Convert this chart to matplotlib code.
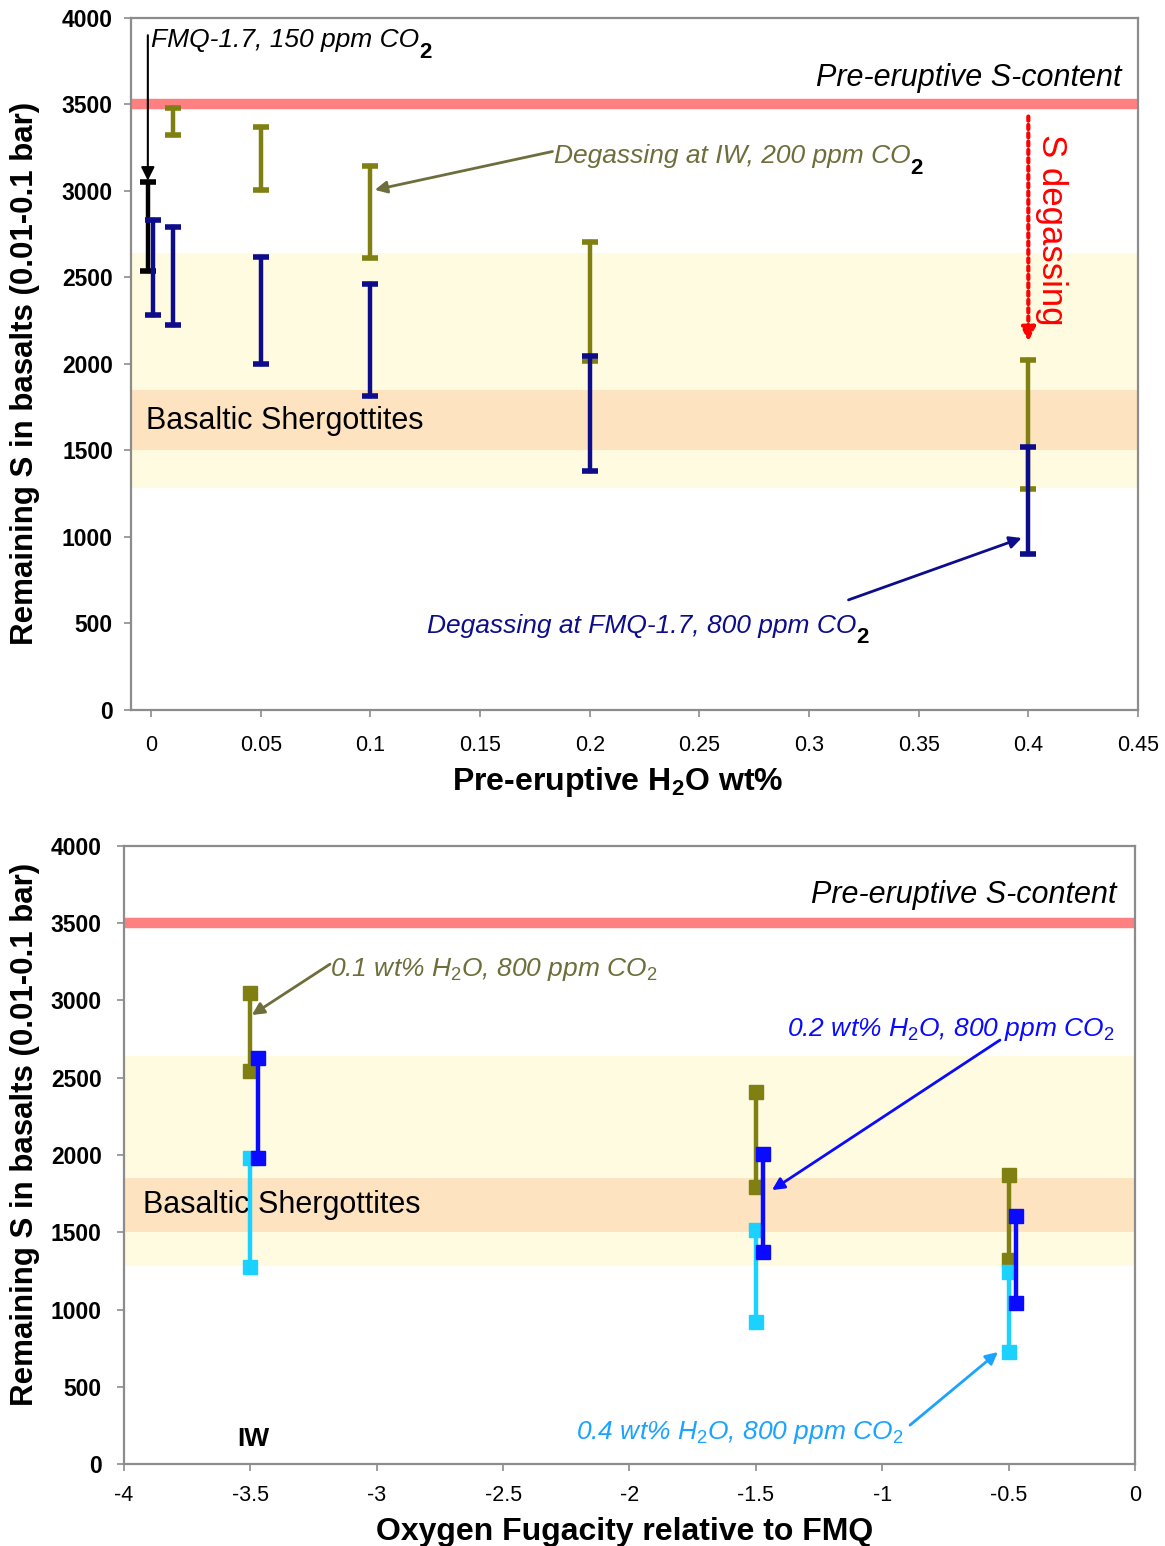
import numpy as np
import matplotlib
matplotlib.use("Agg")
import matplotlib.pyplot as plt

plt.rcParams['font.family'] = ['Liberation Sans', 'DejaVu Sans']
plt.rcParams['mathtext.fontset'] = 'custom'
plt.rcParams['mathtext.rm'] = 'Liberation Sans'
plt.rcParams['mathtext.it'] = 'Liberation Sans:italic'
plt.rcParams['mathtext.bf'] = 'Liberation Sans:bold'

# ---- top panel: S remaining vs pre-eruptive H2O ----
black_x = [-0.0015]
black_hi = [3050]
black_lo = [2540]

iw_x = [0.01, 0.05, 0.1, 0.2, 0.4]
iw_hi = [3480, 3370, 3145, 2705, 2020]
iw_lo = [3325, 3005, 2615, 2015, 1275]

fmq_x = [0.001, 0.01, 0.05, 0.1, 0.2, 0.4]
fmq_hi = [2830, 2790, 2620, 2460, 2045, 1520]
fmq_lo = [2280, 2225, 2000, 1815, 1380, 900]

top_xticks = [0, 0.05, 0.1, 0.15, 0.2, 0.25, 0.3, 0.35, 0.4, 0.45]
top_xlabels = ["0", "0.05", "0.1", "0.15", "0.2", "0.25", "0.3", "0.35", "0.4", "0.45"]

# ---- bottom panel: S remaining vs fO2 ----
h01_x = [-3.5, -1.5, -0.5]
h01_hi = [3050, 2410, 1870]
h01_lo = [2545, 1795, 1320]

h02_x = [-3.47, -1.47, -0.47]
h02_hi = [2630, 2005, 1605]
h02_lo = [1980, 1370, 1045]

h04_x = [-3.5, -1.5, -0.5]
h04_hi = [1980, 1515, 1245]
h04_lo = [1275, 920, 725]

bot_xticks = [-4, -3.5, -3, -2.5, -2, -1.5, -1, -0.5, 0]
bot_xlabels = ["-4", "-3.5", "-3", "-2.5", "-2", "-1.5", "-1", "-0.5", "0"]

yticks = [0, 500, 1000, 1500, 2000, 2500, 3000, 3500, 4000]

pre_s = 3500
band_outer = (1280, 2640)
band_inner = (1500, 1850)

OLIVE = "#808012"
OLIVE_TXT = "#6e6e3c"
NAVY = "#0d0d8c"
BLUE = "#0a0aff"
CYAN = "#1ad1ff"
CYAN_TXT = "#1aa3ff"
RED_LINE = "#ff8080"
YELLOW = "#fffbe0"
ORANGE = "#fde3c0"
FRAME = "#8c8c8c"

fig = plt.figure(figsize=(11.65, 15.46), dpi=100)
ax1 = fig.add_axes([0.1124, 0.5408, 0.8644, 0.4476])
ax2 = fig.add_axes([0.1064, 0.0530, 0.8678, 0.3998])


def style_axes(ax, xlim, xticks, xlabels, xpad, ypad):
    ax.set_xlim(*xlim)
    ax.set_ylim(0, 4000)
    ax.set_xticks(xticks)
    ax.set_xticklabels(xlabels, fontsize=15.5)
    ax.set_yticks(yticks)
    ax.set_yticklabels([str(v) for v in yticks], fontsize=16.5, fontweight='bold')
    for s in ax.spines.values():
        s.set_color(FRAME)
        s.set_linewidth(1.6)
    ax.tick_params(axis='x', direction='out', length=5, width=1.2, color=FRAME, pad=xpad)
    ax.tick_params(axis='y', direction='out', length=5, width=1.2, color=FRAME, pad=ypad)
    ax.axhspan(*band_outer, color=YELLOW, zorder=0, lw=0)
    ax.axhspan(*band_inner, color=ORANGE, zorder=0.5, lw=0)
    ax.axhline(pre_s, color=RED_LINE, lw=7.5, zorder=1)
    ax.set_ylabel("Remaining S in basalts (0.01-0.1 bar)", fontsize=22.5, fontweight='bold')


style_axes(ax1, (-0.0092, 0.449), top_xticks, top_xlabels, 13, 8)
style_axes(ax2, (-4, 0), bot_xticks, bot_xlabels, 10, 11)
ax1.yaxis.set_label_coords(-0.090, 0.486)
ax2.yaxis.set_label_coords(-0.083, 0.534)
ax1.set_xlabel("Pre-eruptive H$_\\mathbf{2}$O wt%", fontsize=23, fontweight='bold')
ax2.set_xlabel("Oxygen Fugacity relative to FMQ", fontsize=23, fontweight='bold')
ax1.xaxis.set_label_coords(0.483, -0.079)
ax2.xaxis.set_label_coords(0.495, -0.085)

# top panel bars with caps
for xs, los, his, c in [(black_x, black_lo, black_hi, "black"),
                        (iw_x, iw_lo, iw_hi, OLIVE),
                        (fmq_x, fmq_lo, fmq_hi, NAVY)]:
    for x, lo, hi in zip(xs, los, his):
        ax1.plot([x, x], [lo, hi], color=c, lw=3.2, marker='_', ms=12, mew=4, zorder=3)

# bottom panel bars with square markers
for xs, los, his, c in [(h01_x, h01_lo, h01_hi, OLIVE),
                        (h04_x, h04_lo, h04_hi, CYAN),
                        (h02_x, h02_lo, h02_hi, BLUE)]:
    for x, lo, hi in zip(xs, los, his):
        ax2.plot([x, x], [lo, hi], color=c, lw=3.2, marker='s', ms=9.5, zorder=3)

# ---- top annotations ----
ax1.text(0.4426, 3655, "Pre-eruptive S-content", ha='right', va='center',
         fontsize=22, style='italic', zorder=4)
ax1.text(-0.0023, 1670, "Basaltic Shergottites", ha='left', va='center', fontsize=22, zorder=4)

t = ax1.text(0.0, 3870, "FMQ-1.7, 150 ppm CO", ha='left', va='center',
             fontsize=19, style='italic', zorder=4)
ax1.annotate("2", xy=(1, 0), xycoords=t, ha='left', va='center', fontsize=16, fontweight='bold')
ax1.annotate("", xy=(-0.0015, 3060), xytext=(-0.0015, 3900),
             arrowprops=dict(arrowstyle='-|>', color='black', lw=1.5, mutation_scale=20,
                             shrinkA=0, shrinkB=0))

t = ax1.text(0.1835, 3200, "Degassing at IW, 200 ppm CO", ha='left', va='center',
             fontsize=19, style='italic', color=OLIVE_TXT, zorder=4)
ax1.annotate("2", xy=(1, 0), xycoords=t, ha='left', va='center', fontsize=16, fontweight='bold')
ax1.annotate("", xy=(0.102, 3006), xytext=(0.183, 3228),
             arrowprops=dict(arrowstyle='-|>', color=OLIVE_TXT, lw=2, mutation_scale=18,
                             shrinkA=0, shrinkB=0))

t = ax1.text(0.1258, 486, "Degassing at FMQ-1.7, 800 ppm CO", ha='left', va='center',
             fontsize=19, style='italic', color=NAVY, zorder=4)
ax1.annotate("2", xy=(1, 0), xycoords=t, ha='left', va='center', fontsize=16, fontweight='bold')
ax1.annotate("", xy=(0.397, 994), xytext=(0.318, 636),
             arrowprops=dict(arrowstyle='-|>', color=NAVY, lw=2, mutation_scale=18,
                             shrinkA=0, shrinkB=0))

ax1.annotate("", xy=(0.4, 2130), xytext=(0.4, 3430),
             arrowprops=dict(arrowstyle='-|>', color='red', lw=3, linestyle=(0, (1, 1)),
                             mutation_scale=20, shrinkA=0, shrinkB=0))
ax1.text(0.4105, 2775, "S degassing", rotation=-90, ha='center', va='center',
         fontsize=25, color='red', zorder=4)

# ---- bottom annotations ----
ax2.text(-0.071, 3685, "Pre-eruptive S-content", ha='right', va='center',
         fontsize=22, style='italic', zorder=4)
ax2.text(-3.925, 1676, "Basaltic Shergottites", ha='left', va='center', fontsize=22, zorder=2)
ax2.text(-3.49, 160, "IW", ha='center', va='center', fontsize=19, fontweight='bold')

ax2.text(-3.185, 3200, "0.1 wt% H$_2$O, 800 ppm CO$_2$", ha='left', va='center',
         fontsize=19, style='italic', color=OLIVE_TXT, zorder=4)
ax2.annotate("", xy=(-3.494, 2906), xytext=(-3.185, 3235),
             arrowprops=dict(arrowstyle='-|>', color=OLIVE_TXT, lw=2, mutation_scale=18,
                             shrinkA=0, shrinkB=0))

ax2.text(-1.376, 2810, "0.2 wt% H$_2$O, 800 ppm CO$_2$", ha='left', va='center',
         fontsize=19, style='italic', color=BLUE, zorder=4)
ax2.annotate("", xy=(-1.436, 1773), xytext=(-0.534, 2744),
             arrowprops=dict(arrowstyle='-|>', color=BLUE, lw=2, mutation_scale=18,
                             shrinkA=0, shrinkB=0))

ax2.text(-2.211, 207, "0.4 wt% H$_2$O, 800 ppm CO$_2$", ha='left', va='center',
         fontsize=19, style='italic', color=CYAN_TXT, zorder=4)
ax2.annotate("", xy=(-0.542, 725), xytext=(-0.890, 252),
             arrowprops=dict(arrowstyle='-|>', color=CYAN_TXT, lw=2, mutation_scale=18,
                             shrinkA=0, shrinkB=0))

fig.savefig("out.png", dpi=100)
